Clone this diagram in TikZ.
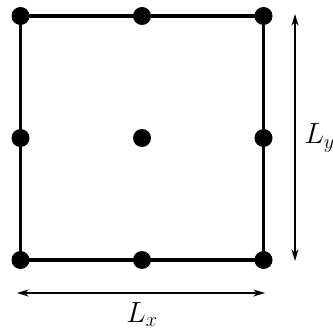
\documentclass[tikz,border=0pt]{standalone}
\usepackage{xcolor}
\usepackage{tikz}
\usetikzlibrary{arrows.meta,positioning,calc,backgrounds}
\definecolor{GridBlack}{HTML}{000000}
\tikzset{
  gridpt/.style={circle,fill=GridBlack,inner sep=0pt,minimum size=0.54cm},
  edgeline/.style={line width=2.6pt,color=GridBlack},
  dimarr/.style={{Stealth[length=10pt,width=6pt,inset=3pt]}-{Stealth[length=10pt,width=6pt,inset=3pt]},line width=1.1pt,color=GridBlack},
  dimlbl/.style={font=\fontsize{24}{29}\selectfont,inner sep=0pt}
}
\begin{document}
\begin{tikzpicture}
    \useasboundingbox (0,0) rectangle (9.99,9.96);
    % Grid points — corners, edge midpoints and centre
    \node[gridpt] (sw) at (0.615,2.16) {};
    \node[gridpt] (se) at (7.905,2.16) {};
    \node[gridpt] (ne) at (7.905,9.48) {};
    \node[gridpt] (nw) at (0.615,9.48) {};
    \node[gridpt] (s) at (4.26,2.16) {};
    \node[gridpt] (n) at (4.26,9.48) {};
    \node[gridpt] (w) at (0.615,5.82) {};
    \node[gridpt] (e) at (7.905,5.82) {};
    \node[gridpt] (c) at (4.26,5.82) {};
    % Square outline behind the points
    \begin{scope}[on background layer]
      \draw[edgeline] (sw.center) -- (s.center) -- (se.center) -- (e.center) -- (ne.center)
        -- (n.center) -- (nw.center) -- (w.center) -- cycle;
    \end{scope}
    % Dimension arrows
    \coordinate (lxa) at (0.51,1.17);
    \coordinate (lxb) at (7.95,1.17);
    \coordinate (lya) at (8.85,9.54);
    \coordinate (lyb) at (8.85,2.13);
    \draw[dimarr] (lxa) -- (lxb);
    \draw[dimarr] (lya) -- (lyb);
    % Labels
    \node[dimlbl] (lx) at (4.26,0.52) {$L_x$};
    \node[dimlbl,anchor=west] (ly) at (9.13,5.82) {$L_y$};
  \end{tikzpicture}
\end{document}
